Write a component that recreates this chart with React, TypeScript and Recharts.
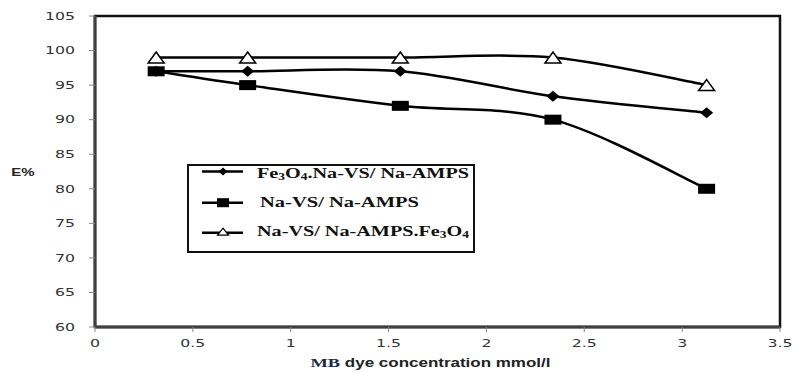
import { LineChart, Line, XAxis, YAxis, Legend, ReferenceArea } from 'recharts';

// MB dye concentration (mmol/l) and removal efficiency E%
const concentrations = [0.3125, 0.78, 1.56, 2.34, 3.125];
const fe3o4NaVs = [97, 97, 97, 93.4, 91];
const naVs = [97, 95, 92, 90, 80];
const naVsFe3o4 = [99, 99, 99, 99, 95];

const xTicks = [0, 0.5, 1, 1.5, 2, 2.5, 3, 3.5];
const yTicks = [60, 65, 70, 75, 80, 85, 90, 95, 100, 105];

const data = concentrations.map((c, i) => ({
    c,
    diamond: fe3o4NaVs[i],
    square: naVs[i],
    triangle: naVsFe3o4[i],
}));

const STRETCH = 1.5;

// Excel-like smoothed line (Catmull-Rom through the scaled points)
function smoothCurve(context: any) {
    let pts: [number, number][] = [];
    return {
        areaStart() {},
        areaEnd() {},
        lineStart() {
            pts = [];
        },
        point(x: number, y: number) {
            pts.push([+x, +y]);
        },
        lineEnd() {
            const n = pts.length;
            if (!n) return;
            context.moveTo(pts[0][0], pts[0][1]);
            for (let i = 0; i < n - 1; i++) {
                const p0 = pts[i - 1] || pts[i];
                const p1 = pts[i];
                const p2 = pts[i + 1];
                const p3 = pts[i + 2] || p2;
                context.bezierCurveTo(
                    p1[0] + (p2[0] - p0[0]) / 6,
                    p1[1] + (p2[1] - p0[1]) / 6,
                    p2[0] - (p3[0] - p1[0]) / 6,
                    p2[1] - (p3[1] - p1[1]) / 6,
                    p2[0],
                    p2[1]
                );
            }
        },
    };
}

const diamondPath = (cx: number, cy: number, w: number, h: number) =>
    `M${cx},${cy - h / 2}L${cx + w / 2},${cy}L${cx},${cy + h / 2}L${cx - w / 2},${cy}Z`;
const trianglePath = (cx: number, cy: number, w: number, h: number) =>
    `M${cx},${cy - h / 2}L${cx + w / 2},${cy + h / 2}L${cx - w / 2},${cy + h / 2}Z`;

const XTick = ({ x, y, payload }: any) => (
    <g transform={`translate(${x},${y})`}>
        <text transform={`scale(${STRETCH},1)`} textAnchor="middle" dy="0.71em" fontFamily="DejaVu Sans" fontSize={10.5} fill="#333">
            {payload.value}
        </text>
    </g>
);

const YTick = ({ x, y, payload }: any) => (
    <g transform={`translate(${x},${y})`}>
        <text transform={`scale(${STRETCH},1)`} textAnchor="end" dy="0.355em" fontFamily="DejaVu Sans" fontSize={10.5} fill="#333">
            {payload.value}
        </text>
    </g>
);

const XTitle = ({ viewBox }: any) => (
    <text
        x={viewBox.x + viewBox.width / 2 - 127}
        y={viewBox.y + 40}
        textLength={240}
        lengthAdjust="spacingAndGlyphs"
        fontWeight="bold"
        fontSize={12}
        fill="#222"
    >
        <tspan fontFamily="Liberation Serif" fontSize={13} fill="#1a2a4a">MB</tspan>
        <tspan fontFamily="Liberation Sans"> dye concentration mmol/l</tspan>
    </text>
);

const YTitle = ({ viewBox }: any) => (
    <text
        x={viewBox.x + 23}
        y={viewBox.y + viewBox.height / 2 + 1}
        textAnchor="middle"
        dominantBaseline="central"
        transform={`translate(${-(STRETCH - 1) * 23},0) scale(${STRETCH},1)`}
        fontFamily="Liberation Sans"
        fontWeight="bold"
        fontSize={10}
        fill="#222"
    >
        E%
    </text>
);

const legendRows = [
    { key: 'diamond', y: 7.5, textY: 14.3, textX: 70, len: 212 },
    { key: 'square', y: 38.7, textY: 42.7, textX: 73, len: 159 },
    { key: 'triangle', y: 68.7, textY: 71.7, textX: 70, len: 212 },
];

const Sub = ({ children }: any) => (
    <>
        <tspan fontSize={10} dy={2}>{children}</tspan>
    </>
);

function LegendBox() {
    const font = { fontFamily: 'Liberation Serif', fontWeight: 'bold' as const, fontSize: 15, fill: '#111' };
    return (
        <svg width={288} height={89} style={{ display: 'block' }}>
            <rect x={1} y={1} width={286} height={87} fill="#fff" stroke="#111" strokeWidth={2} />
            {legendRows.map((r) => (
                <g key={r.key}>
                    <line x1={15} x2={56} y1={r.y} y2={r.y} stroke="#000" strokeWidth={2.5} />
                    {r.key === 'diamond' && <path d={diamondPath(36, r.y, 9, 8)} fill="#000" />}
                    {r.key === 'square' && <rect x={30} y={r.y - 4.5} width={12} height={9} fill="#000" />}
                    {r.key === 'triangle' && <path d={trianglePath(36, r.y - 1, 11, 7)} fill="#fff" stroke="#000" strokeWidth={1.2} />}
                </g>
            ))}
            <text x={legendRows[0].textX} y={legendRows[0].textY} textLength={legendRows[0].len} lengthAdjust="spacingAndGlyphs" {...font}>
                Fe<Sub>3</Sub>
                <tspan dy={-2}>O</tspan>
                <Sub>4</Sub>
                <tspan dy={-2}>.Na-VS/ Na-AMPS</tspan>
            </text>
            <text x={legendRows[1].textX} y={legendRows[1].textY} textLength={legendRows[1].len} lengthAdjust="spacingAndGlyphs" {...font}>
                Na-VS/ Na-AMPS
            </text>
            <text x={legendRows[2].textX} y={legendRows[2].textY} textLength={legendRows[2].len} lengthAdjust="spacingAndGlyphs" {...font}>
                Na-VS/ Na-AMPS.Fe<Sub>3</Sub>
                <tspan dy={-2}>O</tspan>
                <Sub>4</Sub>
            </text>
        </svg>
    );
}

export default function App() {
    return (
        <div style={{ position: 'absolute', left: 0, top: 0, width: 792, height: 372, background: '#fff' }}>
            <LineChart width={792} height={372} data={data} margin={{ top: 16, right: 12, left: 0, bottom: 0 }}>
                {/* plot frame (top and right edges) */}
                <ReferenceArea
                    x1={0}
                    x2={3.5}
                    y1={60}
                    y2={105}
                    fill="none"
                    fillOpacity={0}
                    stroke="#111"
                    strokeWidth={2.5}
                    ifOverflow="visible"
                />
                <XAxis
                    dataKey="c"
                    type="number"
                    domain={[0, 3.5]}
                    ticks={xTicks}
                    interval={0}
                    height={45}
                    tick={<XTick />}
                    tickSize={5}
                    tickMargin={8}
                    tickLine={{ stroke: '#888' }}
                    axisLine={{ stroke: '#404040', strokeWidth: 3 }}
                    label={<XTitle />}
                />
                <YAxis
                    type="number"
                    domain={[60, 105]}
                    ticks={yTicks}
                    interval={0}
                    width={95}
                    tick={<YTick />}
                    tickSize={6}
                    tickMargin={14}
                    tickLine={{ stroke: '#888' }}
                    axisLine={{ stroke: '#404040', strokeWidth: 3 }}
                    label={<YTitle />}
                />
                <Legend
                    layout="horizontal"
                    align="center"
                    verticalAlign="middle"
                    content={() => <LegendBox />}
                    wrapperStyle={{ position: 'absolute', left: 187, top: 164, width: 288, height: 89 }}
                />
                <Line
                    dataKey="diamond"
                    name="Fe3O4.Na-VS/ Na-AMPS"
                    type={smoothCurve as any}
                    stroke="#000"
                    strokeWidth={2.5}
                    isAnimationActive={false}
                    dot={(p: any) => <path key={`d${p.index}`} d={diamondPath(p.cx, p.cy, 13, 11)} fill="#000" />}
                />
                <Line
                    dataKey="square"
                    name="Na-VS/ Na-AMPS"
                    type={smoothCurve as any}
                    stroke="#000"
                    strokeWidth={2.5}
                    isAnimationActive={false}
                    dot={(p: any) => <rect key={`s${p.index}`} x={p.cx - 8.5} y={p.cy - 5} width={17} height={10} fill="#000" />}
                />
                <Line
                    dataKey="triangle"
                    name="Na-VS/ Na-AMPS.Fe3O4"
                    type={smoothCurve as any}
                    stroke="#000"
                    strokeWidth={2.5}
                    isAnimationActive={false}
                    dot={(p: any) => (
                        <path key={`t${p.index}`} d={trianglePath(p.cx, p.cy, 16, 11)} fill="#fff" stroke="#000" strokeWidth={1.5} />
                    )}
                />
            </LineChart>
        </div>
    );
}
